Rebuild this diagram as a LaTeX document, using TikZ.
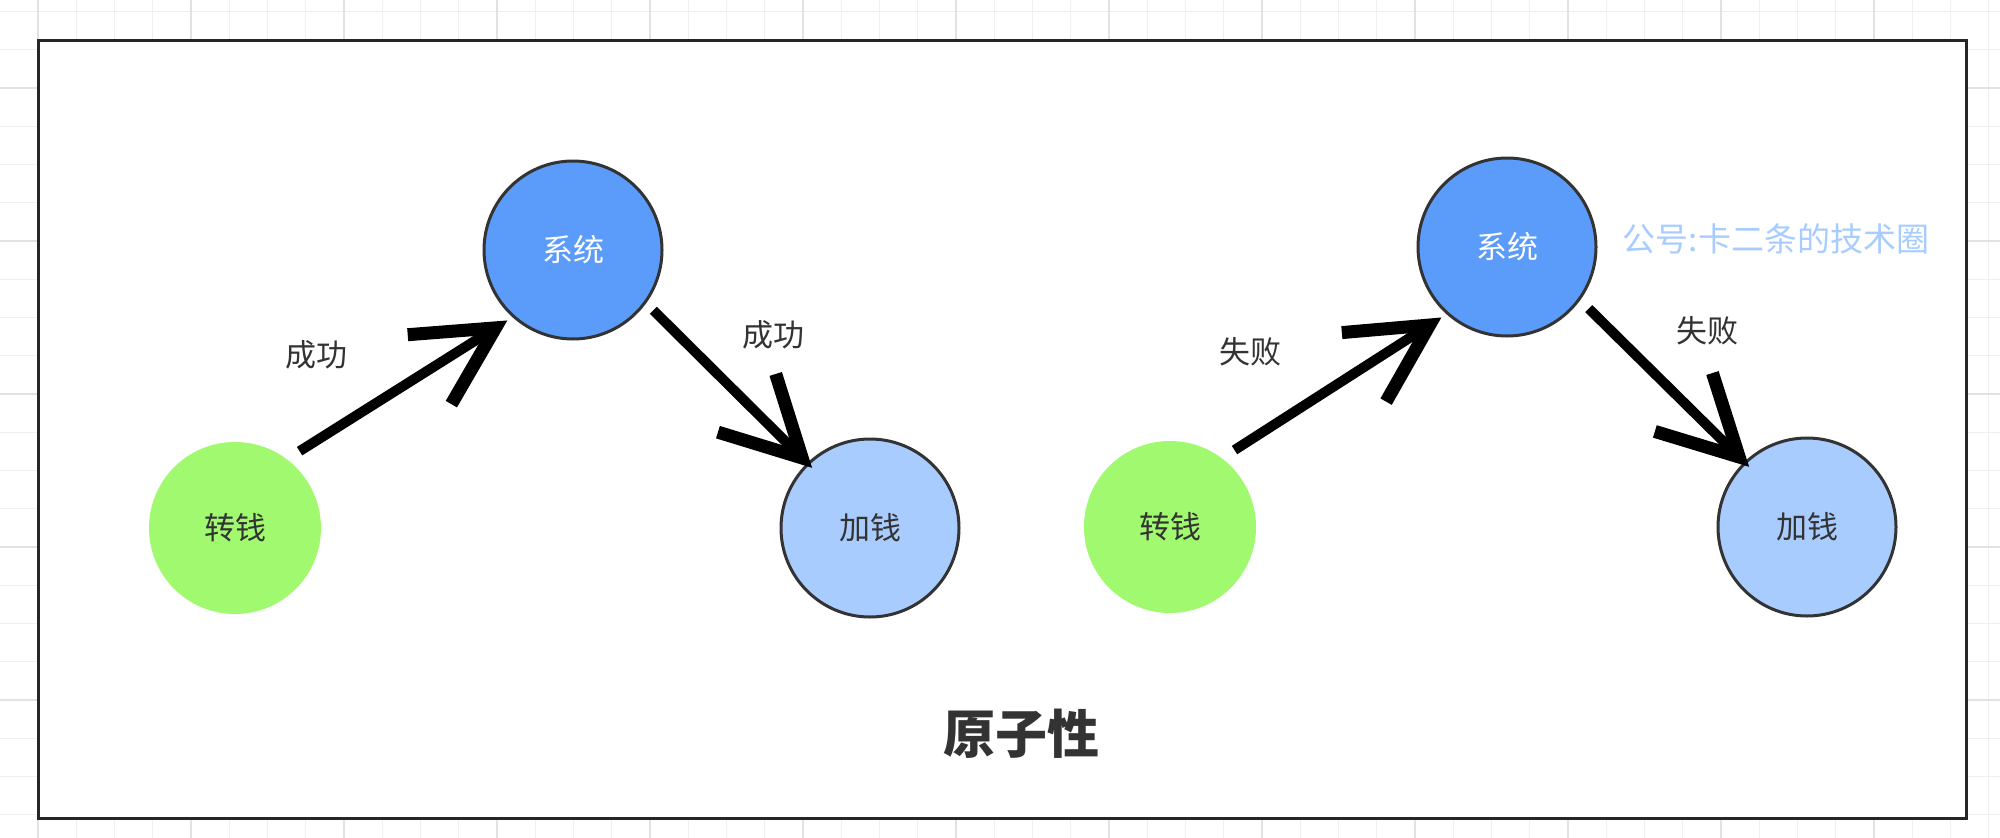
\documentclass[tikz,border=0pt]{standalone}
\usepackage{fontspec}
\setmainfont{Noto Sans CJK SC}
\usetikzlibrary{arrows.meta}
\definecolor{sysblue}{HTML}{5B9BFA}
\definecolor{addblue}{HTML}{A9CCFF}
\definecolor{trgreen}{HTML}{A0F96E}
\definecolor{txt}{HTML}{333333}
\definecolor{wmcol}{HTML}{A9CCFF}
\definecolor{gmin}{HTML}{EFEFEF}
\definecolor{gmaj}{HTML}{E2E2E2}
\begin{document}
\begin{tikzpicture}[x=1pt,y=-1pt,
  circ/.style={circle, minimum size=178pt, inner sep=0pt, line width=3pt, draw=txt,
    font=\fontsize{31pt}{31pt}\selectfont},
  sysnode/.style={circ, fill=sysblue, text=white},
  addnode/.style={circ, fill=addblue, text=txt},
  srcnode/.style={circle, minimum size=172pt, inner sep=0pt, fill=trgreen, text=txt,
    font=\fontsize{31pt}{31pt}\selectfont},
  lbl/.style={text=txt, inner sep=0pt, font=\fontsize{31pt}{31pt}\selectfont},
  wmark/.style={text=wmcol, inner sep=0pt, font=\fontsize{33pt}{33pt}\selectfont},
  ttl/.style={text=txt, inner sep=0pt, font=\fontsize{52pt}{52pt}\selectfont\bfseries},
  bigarrow/.style={line width=10pt, -{Straight Barb[length=78pt,width=82pt,line width=13pt]}},
  gminor/.style={draw=gmin, line width=1.2pt},
  gmajor/.style={draw=gmaj, line width=1.6pt},
]
\useasboundingbox (0,0) rectangle (2000,838);
\fill[white] (0,0) rectangle (2000,838);
% background grid
\foreach \i in {-1,...,52} \draw[gminor] ({38+38.25*\i},0) -- ({38+38.25*\i},838);
\foreach \j in {-3,...,20} \draw[gminor] (0,{88+38.25*\j}) -- (2000,{88+38.25*\j});
\foreach \i in {0,...,13} \draw[gmajor] ({38+153*\i},0) -- ({38+153*\i},838);
\foreach \j in {-1,...,5} \draw[gmajor] (0,{88+153*\j}) -- (2000,{88+153*\j});
% frame
\draw[line width=3pt, draw=black!85, fill=white] (38,40) rectangle (1966,818);
% left group
\node[srcnode] (zl) at (235,528) {转钱};
\node[sysnode] (sl) at (573,250) {系统};
\node[addnode] (al) at (870,528) {加钱};
\node[lbl] (l1) at (316,355) {成功};
\node[lbl] (l2) at (773,335) {成功};
\draw[bigarrow, shorten <=15pt, shorten >=6pt] (zl.53) -- (sl.228);
\draw[bigarrow, shorten <=10pt, shorten >=-7pt] (sl.324) -- (al.134);
% right group
\node[srcnode] (zr) at (1170,527) {转钱};
\node[sysnode] (sr) at (1507,247) {系统};
\node[addnode] (ar) at (1807,527) {加钱};
\node[lbl] (r1) at (1250,352) {失败};
\node[lbl] (r2) at (1707,331) {失败};
\draw[bigarrow, shorten <=15pt, shorten >=6pt] (zr.53) -- (sr.228);
\draw[bigarrow, shorten <=12pt, shorten >=-7pt] (sr.324) -- (ar.134);
\node[wmark] (wm) at (1776,239) {公号:卡二条的技术圈};
% title
\node[ttl] (title) at (1021,734) {原子性};
\end{tikzpicture}
\end{document}
